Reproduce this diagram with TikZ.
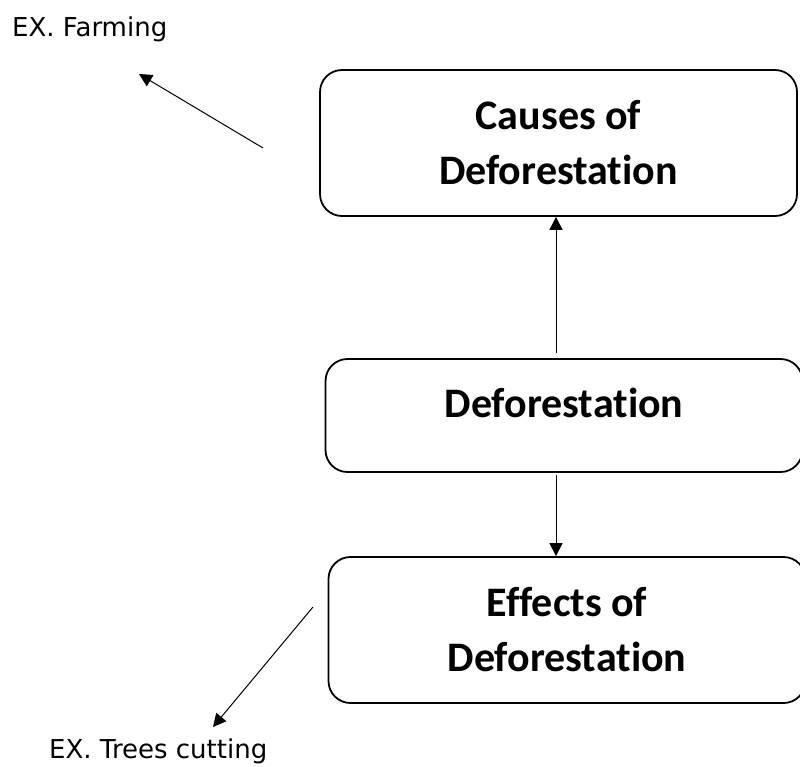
\documentclass[tikz,border=0pt]{standalone}
\usepackage{fontspec}
\setmainfont{Carlito}[Ligatures=NoCommon]
\newfontfamily\exfont{DejaVu Sans}
\usetikzlibrary{arrows.meta}

\tikzset{
  box/.style={draw,line width=1.8pt,rounded corners=22pt,align=center,
    font=\bfseries\fontsize{42}{55}\selectfont,minimum width=477pt},
  ex/.style={font=\exfont\fontsize{26}{30}\selectfont,anchor=base west,inner sep=0pt},
  link/.style={line width=1pt,-{Triangle[length=13pt,width=13pt]}}
}

\begin{document}
\begin{tikzpicture}[x=1pt,y=-1pt]
\useasboundingbox (0,0) rectangle (800,766);
\clip (0,0) rectangle (800,766);
% the three boxes
\node[box,minimum height=146pt] (causes) at (558.5,143) {Causes of\\Deforestation};
\node[box,minimum height=113pt,text depth=26pt] (defor) at (564,415.5) {Deforestation};
\node[box,minimum height=146pt] (effects) at (567,630) {Effects of\\Deforestation};
% examples
\node[ex] (farming) at (12,36) {EX. Farming};
\node[ex] (trees) at (49,758) {EX. Trees cutting};
\coordinate (ctail) at (263,148);
\coordinate (chead) at (139,74);
\coordinate (etail) at (313,607);
\coordinate (ehead) at (213,727);
\draw[link,shorten <=5pt] ([xshift=-8pt]defor.north) -- ([xshift=-2.5pt]causes.south);
\draw[link,shorten <=2pt] ([xshift=-8pt]defor.south) -- ([xshift=-11pt]effects.north);
\draw[link] (ctail) -- (chead);
\draw[link] (etail) -- (ehead);
\end{tikzpicture}
\end{document}
